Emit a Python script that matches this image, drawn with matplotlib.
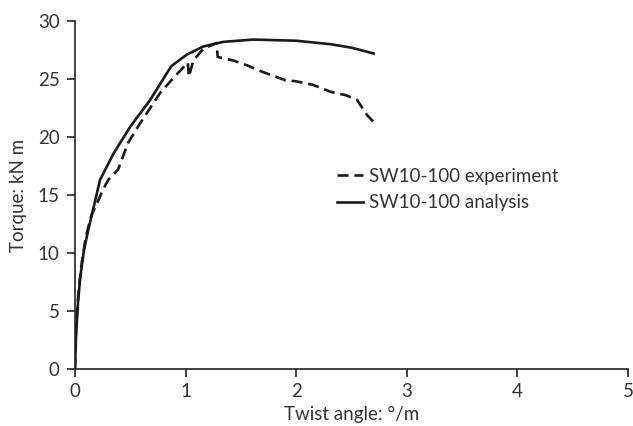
import matplotlib
matplotlib.use('Agg')
import matplotlib.pyplot as plt

# twist angle (deg/m) and torque (kN m)
exp_x = [0, 0.01, 0.03, 0.06, 0.1, 0.15, 0.2, 0.25, 0.3, 0.39, 0.48, 0.59, 0.68, 0.77, 0.9,
         1.0, 1.02, 1.03, 1.07, 1.16, 1.28, 1.29, 1.43, 1.55, 1.7, 1.9, 2.0, 2.15, 2.31,
         2.45, 2.55, 2.64, 2.73]
exp_y = [0, 3.5, 6.5, 9.1, 11.5, 13.3, 14.3, 15.4, 16.3, 17.2, 19.5, 21.2, 22.5, 23.8, 25.2,
         26.2, 26.4, 25.2, 26.6, 27.6, 28.1, 26.9, 26.6, 26.2, 25.6, 24.9, 24.8, 24.5, 23.9,
         23.6, 23.2, 21.9, 21.0]
ana_x = [0, 0.01, 0.025, 0.045, 0.08, 0.12, 0.17, 0.226, 0.35, 0.5, 0.68, 0.87, 1.01, 1.16,
         1.34, 1.61, 2.0, 2.31, 2.5, 2.7]
ana_y = [0, 3.0, 5.5, 7.7, 10.2, 12.0, 14.0, 16.3, 18.6, 20.9, 23.2, 26.1, 27.1, 27.8,
         28.2, 28.4, 28.3, 28.0, 27.7, 27.2]

plt.rcParams['font.family'] = ['Lato', 'DejaVu Sans']

fig = plt.figure(figsize=(6.33, 4.26), dpi=100)
ax = fig.add_axes([0.1185, 0.1338, 0.8735, 0.8169])

ax.plot(exp_x, exp_y, color='#1a1a1a', lw=1.9, ls=(0, (4.2, 2.2)), label='SW10-100 experiment')
ax.plot(ana_x, ana_y, color='#1a1a1a', lw=1.9, label='SW10-100 analysis')

ax.set_xlim(0, 5)
ax.set_ylim(0, 30)
ax.set_xticks(range(0, 6))
ax.set_yticks(range(0, 31, 5))
for s in ['top', 'right']:
    ax.spines[s].set_visible(False)
for s in ['left', 'bottom']:
    ax.spines[s].set_color('#222222')
    ax.spines[s].set_linewidth(1.2)
ax.tick_params(direction='out', length=6, width=1.2, colors='#222222', labelcolor='#333333',
               labelsize=13.5)
ax.tick_params(axis='x', pad=4)
ax.tick_params(axis='y', pad=5)

ax.set_xlabel('Twist angle: °/m', fontsize=13.5, color='#333333', labelpad=4)
ax.set_ylabel('Torque: kN m', fontsize=13.5, color='#333333', labelpad=8)

ax.legend(loc='upper left', bbox_to_anchor=(0.474, 0.578), frameon=False, fontsize=13.5,
          borderaxespad=0, borderpad=0, handlelength=1.39, handletextpad=0.32,
          labelspacing=0.5, labelcolor='#333333')

fig.savefig('out.png', dpi=100)
